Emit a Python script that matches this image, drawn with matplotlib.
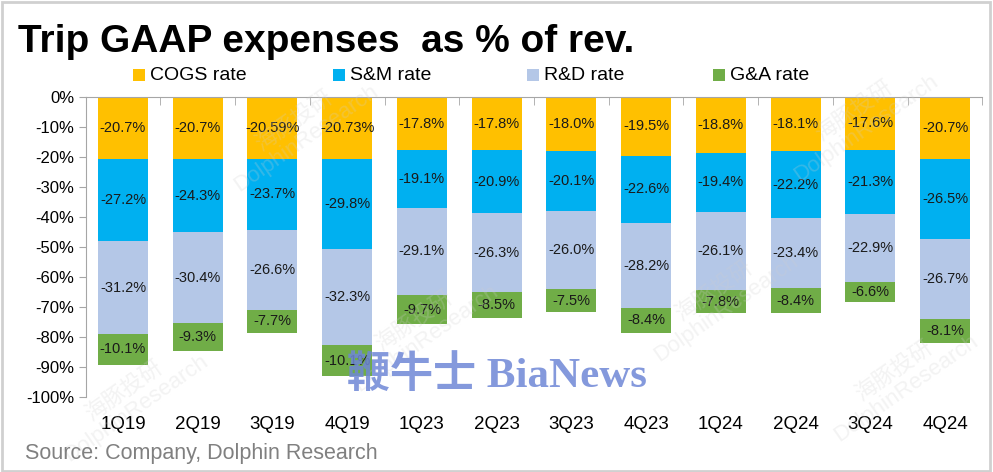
import matplotlib
matplotlib.use("agg")
import matplotlib.pyplot as plt
from matplotlib.patches import Rectangle
import numpy as np

# data (% of revenue, shown negative)
quarters = ["1Q19", "2Q19", "3Q19", "4Q19", "1Q23", "2Q23",
            "3Q23", "4Q23", "1Q24", "2Q24", "3Q24", "4Q24"]
cogs_rate = [-20.7, -20.7, -20.59, -20.73, -17.8, -17.8, -18.0, -19.5, -18.8, -18.1, -17.6, -20.7]
sm_rate = [-27.2, -24.3, -23.7, -29.8, -19.1, -20.9, -20.1, -22.6, -19.4, -22.2, -21.3, -26.5]
rd_rate = [-31.2, -30.4, -26.6, -32.3, -29.1, -26.3, -26.0, -28.2, -26.1, -23.4, -22.9, -26.7]
ga_rate = [-10.1, -9.3, -7.7, -10.1, -9.7, -8.5, -7.5, -8.4, -7.8, -8.4, -6.6, -8.1]
cogs_labels = ["-20.7%", "-20.7%", "-20.59%", "-20.73%", "-17.8%", "-17.8%",
               "-18.0%", "-19.5%", "-18.8%", "-18.1%", "-17.6%", "-20.7%"]
series_names = ["COGS rate", "S&M rate", "R&D rate", "G&A rate"]
y_ticks = list(range(0, -101, -10))

colors = ["#FFC000", "#00B0F0", "#B4C7E7", "#70AD47"]
lab_font = ["Liberation Sans"]

fig = plt.figure(figsize=(9.93, 4.72), dpi=100)
ax = fig.add_axes([85.6 / 993, 75 / 472, 896.8 / 993, 300 / 472])

x = np.arange(len(quarters))
bottom = np.zeros(len(quarters))
all_series = [cogs_rate, sm_rate, rd_rate, ga_rate]
for i, vals in enumerate(all_series):
    vals = np.array(vals)
    ax.bar(x, vals, width=0.67, bottom=bottom, color=colors[i], edgecolor="none", zorder=2)
    for j, v in enumerate(vals):
        txt = cogs_labels[j] if i == 0 else "%.1f%%" % v
        ax.text(x[j], bottom[j] + v / 2, txt, ha="center", va="center",
                fontsize=10.5, color="#1a1a1a", family=lab_font, zorder=4)
    bottom = bottom + vals

ax.set_xlim(-0.5, len(quarters) - 0.5)
ax.set_ylim(-100, 0)
ax.set_yticks(y_ticks)
ax.set_yticklabels(["%d%%" % t for t in y_ticks], family=lab_font, fontsize=12)
ax.set_xticks(x)
ax.set_xticklabels(quarters, family=lab_font, fontsize=13.5)
ax.tick_params(axis="x", which="major", length=0, pad=14)
ax.tick_params(axis="y", length=5, color="#A6A6A6", pad=3)
ax.set_xticks(np.arange(-0.5, len(quarters)), minor=True)
ax.tick_params(axis="x", which="minor", top=True, bottom=False, direction="in",
               length=6, color="#A6A6A6")
for s in ["right", "bottom"]:
    ax.spines[s].set_visible(False)
for s in ["top", "left"]:
    ax.spines[s].set_color("#A6A6A6")

# title
fig.text(18 / 993, 1 - 42 / 472, "Trip GAAP expenses  as % of rev.", fontsize=28,
         fontweight="bold", family=lab_font, va="center", ha="left")

# legend entries placed like the reference
legend_x = [133, 333, 527, 713]
for lx, name, c in zip(legend_x, series_names, colors):
    fig.patches.append(Rectangle((lx / 993, 1 - 81 / 472), 12 / 993, 12 / 472,
                                 transform=fig.transFigure, facecolor=c, edgecolor="none"))
    fig.text((lx + 17) / 993, 1 - 75 / 472, name, fontsize=14, family=lab_font,
             va="center", ha="left")

fig.text(25 / 993, 1 - 453 / 472, "Source: Company, Dolphin Research", fontsize=15.5,
         color="#808080", family=lab_font, va="center", ha="left")

# watermarks
fig.text(497 / 993, 1 - 376 / 472, "鞭牛士 BiaNews", fontsize=31, color="#6F87D6",
         alpha=0.85, family=["Liberation Serif", "Noto Sans CJK SC"], fontweight="bold",
         ha="center", va="center", zorder=5)
for wx, wy in [(130, 400), (420, 330), (720, 300), (900, 380), (300, 130), (860, 120)]:
    fig.text(wx / 993, 1 - wy / 472, "海豚投研\nDolphinResearch", fontsize=16, color="#cfcfcf",
             alpha=0.25, rotation=35, ha="center", va="center", linespacing=1.0,
             family=["Liberation Sans", "Noto Sans CJK SC"], zorder=1)

fig.patches.append(Rectangle((0.002, 0.003), 0.995, 0.993, transform=fig.transFigure,
                             fill=False, edgecolor="#D0D0D0", linewidth=2))

fig.savefig("out.png", dpi=100)
